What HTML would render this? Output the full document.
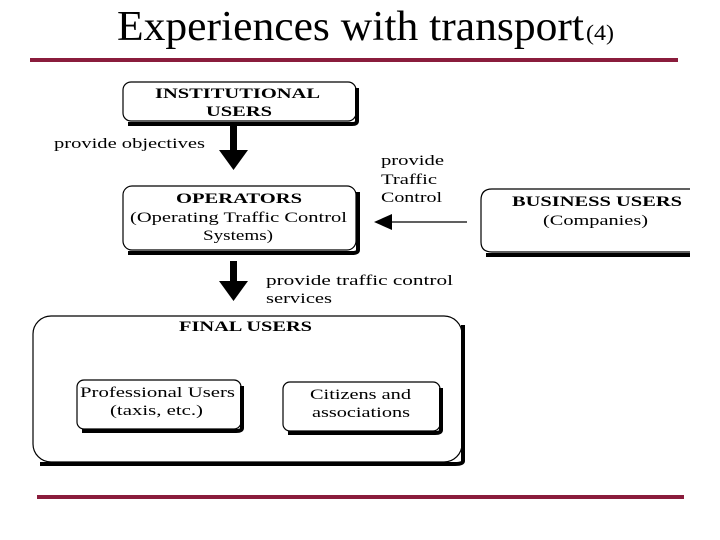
<!DOCTYPE html>
<html><head><style>
body{margin:0;background:#fff;width:720px;height:540px;overflow:hidden}
svg{display:block}
text{font-family:"Liberation Serif",serif;fill:#000}
</style></head><body>
<svg width="720" height="540" viewBox="0 0 720 540">
<text x="117" y="40" font-size="42" textLength="467" lengthAdjust="spacingAndGlyphs">Experiences with transport</text>
<text x="586" y="40" font-size="22" textLength="28" lengthAdjust="spacingAndGlyphs">(4)</text>
<rect x="30" y="58" width="648" height="4" fill="#8a1c3c"/>
<rect x="37" y="495" width="647" height="4" fill="#8a1c3c"/>
<g fill="none" stroke="#000">
<path d="M357 88 V121 Q357 124 352 124 H128" stroke-width="4"/>
<path d="M358 192 V250 Q358 253 352 253 H128" stroke-width="4"/>
<path d="M690 255 H486" stroke-width="4"/>
<path d="M463 325 V461 Q463 464 455 464 H40" stroke-width="4"/>
<path d="M242 386 V428 Q242 431 236 431 H82" stroke-width="4"/>
<path d="M441 388 V430 Q441 433 435 433 H288" stroke-width="4"/>
<g stroke-width="1.2">
<rect x="123" y="82" width="233" height="39" rx="8"/>
<rect x="123" y="186" width="233" height="64" rx="9"/>
<path d="M690 189 H492 Q481 189 481 200 V242 Q481 252 492 252 H690"/>
<rect x="33" y="316" width="429" height="146" rx="18"/>
<rect x="77" y="380" width="164" height="49" rx="7"/>
<rect x="283" y="382" width="157" height="49" rx="7"/>
<path d="M467 222 H390"/>
</g>
</g>
<rect x="230" y="124" width="7" height="28" fill="#000"/>
<polygon points="219,150 248,150 233.5,170" fill="#000"/>
<rect x="230" y="261" width="7" height="22" fill="#000"/>
<polygon points="219,281 248,281 233.5,301" fill="#000"/>
<polygon points="374,222 392,214 392,230" fill="#000"/>
<g font-size="15" lengthAdjust="spacingAndGlyphs">
<text x="155" y="98" font-weight="bold" textLength="165" lengthAdjust="spacingAndGlyphs">INSTITUTIONAL</text>
<text x="206" y="116" font-weight="bold" textLength="66" lengthAdjust="spacingAndGlyphs">USERS</text>
<text x="54" y="148" textLength="151" lengthAdjust="spacingAndGlyphs">provide objectives</text>
<text x="176" y="203" font-weight="bold" textLength="126" lengthAdjust="spacingAndGlyphs">OPERATORS</text>
<text x="130" y="222" textLength="217" lengthAdjust="spacingAndGlyphs">(Operating Traffic Control</text>
<text x="203" y="240" textLength="70" lengthAdjust="spacingAndGlyphs">Systems)</text>
<text x="381" y="165" textLength="63" lengthAdjust="spacingAndGlyphs">provide</text>
<text x="381" y="184" textLength="56" lengthAdjust="spacingAndGlyphs">Traffic</text>
<text x="381" y="202" textLength="61" lengthAdjust="spacingAndGlyphs">Control</text>
<text x="512" y="206" font-weight="bold" textLength="170" lengthAdjust="spacingAndGlyphs">BUSINESS USERS</text>
<text x="543" y="225" textLength="105" lengthAdjust="spacingAndGlyphs">(Companies)</text>
<text x="266" y="285" textLength="187" lengthAdjust="spacingAndGlyphs">provide traffic control</text>
<text x="266" y="303" textLength="66" lengthAdjust="spacingAndGlyphs">services</text>
<text x="179" y="331" font-weight="bold" textLength="133" lengthAdjust="spacingAndGlyphs">FINAL USERS</text>
<text x="80" y="397" textLength="155" lengthAdjust="spacingAndGlyphs">Professional Users</text>
<text x="110" y="415" textLength="93" lengthAdjust="spacingAndGlyphs">(taxis, etc.)</text>
<text x="310" y="399" textLength="101" lengthAdjust="spacingAndGlyphs">Citizens and</text>
<text x="312" y="417" textLength="98" lengthAdjust="spacingAndGlyphs">associations</text>
</g>
</svg>
</body></html>
